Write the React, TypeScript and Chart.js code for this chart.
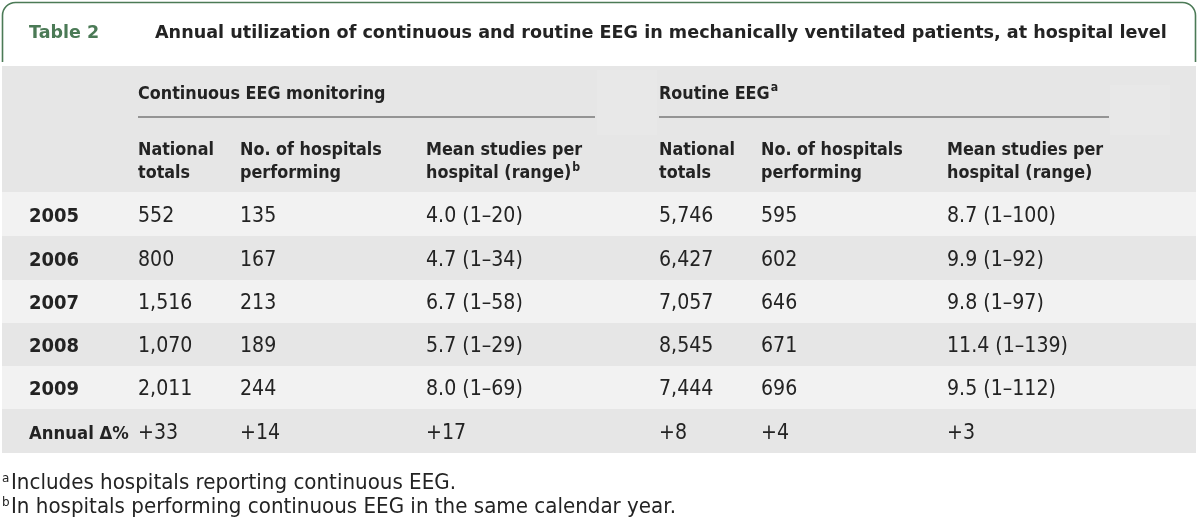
import React, { useEffect, useRef } from 'react';
import { Chart, registerables } from 'chart.js';
Chart.register(...registerables);

// ---- Data ----
const tableLabel = 'Table 2';
const tableTitle = 'Annual utilization of continuous and routine EEG in mechanically ventilated patients, at hospital level';
const groupHeaders = ['Continuous EEG monitoring', 'Routine EEG'];
const groupSup = ['', 'a'];
const columnHeaders = [
  ['National', 'totals'],
  ['No. of hospitals', 'performing'],
  ['Mean studies per', 'hospital (range)'],
  ['National', 'totals'],
  ['No. of hospitals', 'performing'],
  ['Mean studies per', 'hospital (range)'],
];
const columnSup = ['', '', 'b', '', '', ''];
const years = ['2005', '2006', '2007', '2008', '2009'];
const contTotals = ['552', '800', '1,516', '1,070', '2,011'];
const contHospitals = ['135', '167', '213', '189', '244'];
const contMean = ['4.0 (1–20)', '4.7 (1–34)', '6.7 (1–58)', '5.7 (1–29)', '8.0 (1–69)'];
const routTotals = ['5,746', '6,427', '7,057', '8,545', '7,444'];
const routHospitals = ['595', '602', '646', '671', '696'];
const routMean = ['8.7 (1–100)', '9.9 (1–92)', '9.8 (1–97)', '11.4 (1–139)', '9.5 (1–112)'];
const annualLabel = 'Annual Δ%';
const annualChange = ['+33', '+14', '+17', '+8', '+4', '+3'];
const footnotes = [
  ['a', 'Includes hospitals reporting continuous EEG.'],
  ['b', 'In hospitals performing continuous EEG in the same calendar year.'],
];

// ---- Layout (page units = pixels on the scales) ----
const W = 1200;
const H = 527;
const colX = [29, 138, 240, 426, 659, 761, 947];
const rowTop = [192, 236, 280, 323, 366, 409];
const rowBottom = 453;
const FONT = '"DejaVu Sans", "Liberation Sans", sans-serif';
const GREEN = '#4b7a56';
const TEXT = '#232323';

const tablePlugin = {
  id: 'tablePlugin',
  beforeDraw(chart: any) {
    const { ctx, scales } = chart;
    const X = (v: number) => scales.x.getPixelForValue(v);
    const Y = (v: number) => scales.y.getPixelForValue(v);
    ctx.save();
    ctx.fillStyle = '#ffffff';
    ctx.fillRect(X(0), Y(0), X(W) - X(0), Y(H) - Y(0));

    // header band
    ctx.fillStyle = '#e6e6e6';
    ctx.fillRect(X(2), Y(66), X(1196) - X(2), Y(rowTop[0]) - Y(66));
    // faint lighter patches in header band
    ctx.fillStyle = '#e8e8e8';
    ctx.fillRect(X(597), Y(70), X(657) - X(597), Y(135) - Y(70));
    ctx.fillRect(X(1110), Y(85), X(1170) - X(1110), Y(135) - Y(85));

    // body rows
    const tops = [...rowTop, rowBottom];
    for (let i = 0; i < rowTop.length; i++) {
      ctx.fillStyle = i % 2 === 0 ? '#f2f2f2' : '#e6e6e6';
      ctx.fillRect(X(2), Y(tops[i]), X(1196) - X(2), Y(tops[i + 1]) - Y(tops[i]));
    }

    // green frame
    ctx.strokeStyle = GREEN;
    ctx.lineWidth = 1.6;
    ctx.beginPath();
    const r = 13;
    ctx.moveTo(X(2.5), Y(62));
    ctx.lineTo(X(2.5), Y(2.5 + r));
    ctx.arcTo(X(2.5), Y(2.5), X(2.5 + r), Y(2.5), r);
    ctx.lineTo(X(1195.5 - r), Y(2.5));
    ctx.arcTo(X(1195.5), Y(2.5), X(1195.5), Y(2.5 + r), r);
    ctx.lineTo(X(1195.5), Y(62));
    ctx.stroke();

    // group underlines
    ctx.strokeStyle = '#7a7a7a';
    ctx.lineWidth = 1.5;
    ctx.beginPath();
    ctx.moveTo(X(colX[1]), Y(117));
    ctx.lineTo(X(595), Y(117));
    ctx.moveTo(X(colX[4]), Y(117));
    ctx.lineTo(X(1109), Y(117));
    ctx.stroke();
    ctx.restore();
  },
  afterDraw(chart: any) {
    const { ctx, scales } = chart;
    const X = (v: number) => scales.x.getPixelForValue(v);
    const Y = (v: number) => scales.y.getPixelForValue(v);
    ctx.save();
    ctx.textBaseline = 'alphabetic';
    ctx.textAlign = 'left';

    // draw text with baseline at (px, py) in pixels, slightly stretched vertically
    const draw = (s: string, px: number, py: number, font: string, color: string, sy: number) => {
      ctx.save();
      ctx.font = font;
      ctx.fillStyle = color;
      ctx.translate(px, py);
      ctx.scale(1, sy);
      ctx.fillText(s, 0, 0);
      const w = ctx.measureText(s).width;
      ctx.restore();
      return w;
    };

    const txt = (s: string, x: number, yb: number, size: number, bold: boolean, color = TEXT, sup = '', sy = 1.1) => {
      const f = `${bold ? 'bold ' : ''}${size}px ${FONT}`;
      const w = draw(s, X(x), Y(yb), f, color, sy);
      if (sup) {
        const fs = `${bold ? 'bold ' : ''}${Math.round(size * 0.66)}px ${FONT}`;
        draw(sup, X(x) + w + 1, Y(yb) - size * 0.45, fs, color, sy);
      }
    };

    txt(tableLabel, 29, 38, 17.5, true, GREEN, '', 1.05);
    txt(tableTitle, 155, 38, 17.6, true, TEXT, '', 1.05);

    txt(groupHeaders[0], colX[1], 98.5, 16, true, TEXT, groupSup[0]);
    txt(groupHeaders[1], colX[4], 98.5, 16, true, TEXT, groupSup[1]);

    columnHeaders.forEach((lines, i) => {
      txt(lines[0], colX[i + 1], 155, 16, true);
      txt(lines[1], colX[i + 1], 178, 16, true, TEXT, columnSup[i]);
    });

    const meta = chart.getDatasetMeta(0);
    const cells = chart.data.datasets[0].data as any[];
    meta.data.forEach((pt: any, k: number) => {
      const c = cells[k];
      const f = c.bold ? `bold ${c.size}px ${FONT}` : `19px ${FONT}`;
      draw(c.text, pt.x, pt.y + 7.5, f, TEXT, c.bold ? 1.12 : 1.08);
    });

    footnotes.forEach(([s, t], i) => {
      const yb = 489 + i * 23.5;
      draw(s, X(2), Y(yb) - 7, `12px ${FONT}`, TEXT, 1.05);
      draw(t, X(11), Y(yb), `19.9px ${FONT}`, TEXT, 1.05);
    });
    ctx.restore();
  },
};

function buildCells() {
  const bounds = [...rowTop, rowBottom];
  const rowCenters = rowTop.map((t, i) => (t + bounds[i + 1]) / 2);
  const cols = [contTotals, contHospitals, contMean, routTotals, routHospitals, routMean];
  const cells: any[] = [];
  years.forEach((yr, r) => {
    cells.push({ x: colX[0], y: rowCenters[r], text: yr, bold: true, size: 18 });
    cols.forEach((col, c) => cells.push({ x: colX[c + 1], y: rowCenters[r], text: col[r], bold: false }));
  });
  const last = rowCenters[years.length];
  cells.push({ x: colX[0], y: last, text: annualLabel, bold: true, size: 16.5 });
  annualChange.forEach((v, c) => cells.push({ x: colX[c + 1], y: last, text: v, bold: false }));
  return cells;
}

export default function App() {
  const ref = useRef<HTMLCanvasElement>(null);
  useEffect(() => {
    document.body.style.margin = '0';
    const chart = new Chart(ref.current!, {
      type: 'scatter',
      data: { datasets: [{ data: buildCells(), pointRadius: 0, pointHoverRadius: 0 }] },
      options: {
        animation: false,
        responsive: false,
        maintainAspectRatio: false,
        devicePixelRatio: 1,
        events: [],
        layout: { padding: 0 },
        plugins: { legend: { display: false }, tooltip: { enabled: false } },
        scales: {
          x: { type: 'linear', min: 0, max: W, display: false },
          y: { type: 'linear', min: 0, max: H, reverse: true, display: false },
        },
      },
      plugins: [tablePlugin],
    } as any);
    return () => chart.destroy();
  }, []);
  return (
    <div style={{ position: 'absolute', left: 0, top: 0, width: W, height: H, background: '#fff' }}>
      <canvas ref={ref} width={W} height={H} style={{ width: W, height: H, display: 'block' }} />
    </div>
  );
}
